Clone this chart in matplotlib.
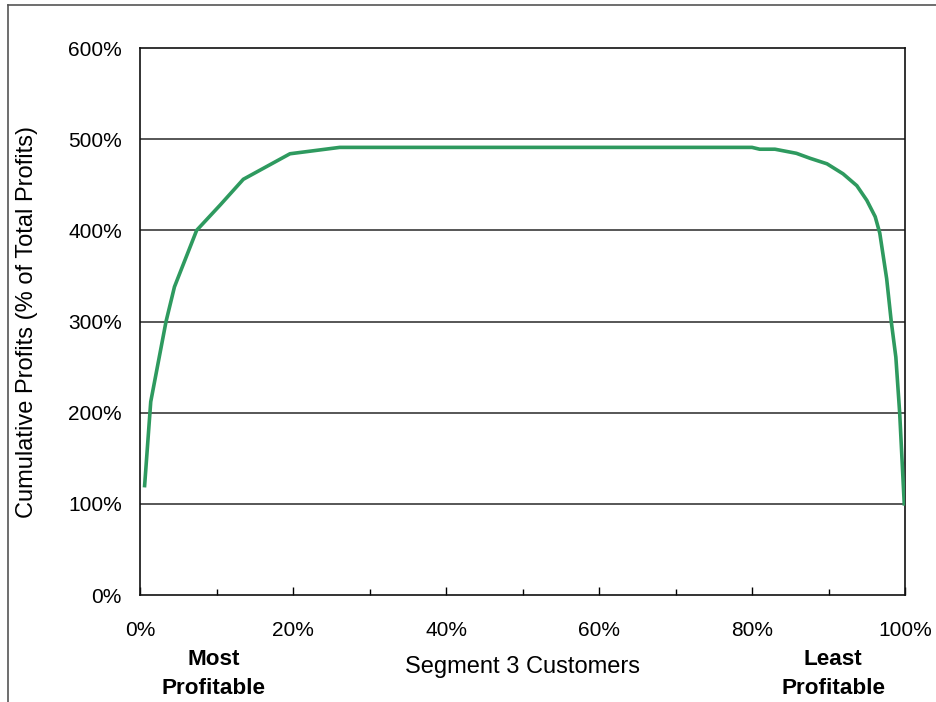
import matplotlib
matplotlib.use("Agg")
from matplotlib import pyplot as plt
from matplotlib.lines import Line2D
from matplotlib.ticker import MultipleLocator, PercentFormatter

plt.rcParams['font.family'] = ['Liberation Sans', 'DejaVu Sans']

# cumulative share of customers (%), ranked most -> least profitable
customers = [0.6, 1.4, 3.4, 4.5, 7.4, 10.5, 13.5, 19.6, 26.1, 80.0, 81.0, 83.0,
             85.8, 87.6, 89.8, 91.9, 93.7, 95.0, 96.1, 96.7, 97.6, 98.2, 98.8,
             99.3, 99.9]
# cumulative profits (% of total profits)
profits = [120, 212, 300, 338, 400, 428, 456, 484, 491, 491, 489, 489,
           484.5, 479, 473, 462, 449, 433, 415, 397, 347, 300, 261,
           200, 100]

y_ticks = [0, 100, 200, 300, 400, 500, 600]
x_ticks = [0, 20, 40, 60, 80, 100]

fig = plt.figure(figsize=(9.36, 7.02), dpi=100)
ax = fig.add_axes([0.1496, 0.1524, 0.8173, 0.7792])

for v in y_ticks[1:-1]:
    ax.axhline(v, color="#3a3a3a", lw=1.2, zorder=1)

ax.plot(customers, profits, color="#2e9a5f", lw=2.6, zorder=3)

ax.set_xlim(0, 100)
ax.set_ylim(0, 600)
ax.set_yticks(y_ticks)
ax.set_xticks(x_ticks)
ax.xaxis.set_minor_locator(MultipleLocator(10))
ax.xaxis.set_major_formatter(PercentFormatter(decimals=0))
ax.yaxis.set_major_formatter(PercentFormatter(decimals=0))

ax.tick_params(axis="y", length=0, pad=13, labelsize=15)
ax.tick_params(axis="x", which="major", direction="in", length=6, width=1,
               pad=19, labelsize=15)
ax.tick_params(axis="x", which="minor", direction="in", length=4, width=1)

for s in ax.spines.values():
    s.set_color("#111111")
    s.set_linewidth(1.2)

ax.set_ylabel("Cumulative Profits (% of Total Profits)", fontsize=17)
ax.yaxis.set_label_coords(-0.133, 0.5)

fig.text(0.558, 0.050, "Segment 3 Customers", ha="center", va="center", fontsize=17)
fig.text(0.228, 0.040, "Most\nProfitable", ha="center", va="center",
         fontsize=16.2, fontweight="bold", linespacing=1.5)
fig.text(0.890, 0.040, "Least\nProfitable", ha="center", va="center",
         fontsize=16.2, fontweight="bold", linespacing=1.5)

# page frame at left and top
fig.add_artist(Line2D([0.0085, 0.0085], [0.0, 0.993], transform=fig.transFigure,
                      color="#555555", lw=1.2))
fig.add_artist(Line2D([0.0085, 1.0], [0.993, 0.993], transform=fig.transFigure,
                      color="#555555", lw=1.2))

fig.savefig("out.png", dpi=100)
